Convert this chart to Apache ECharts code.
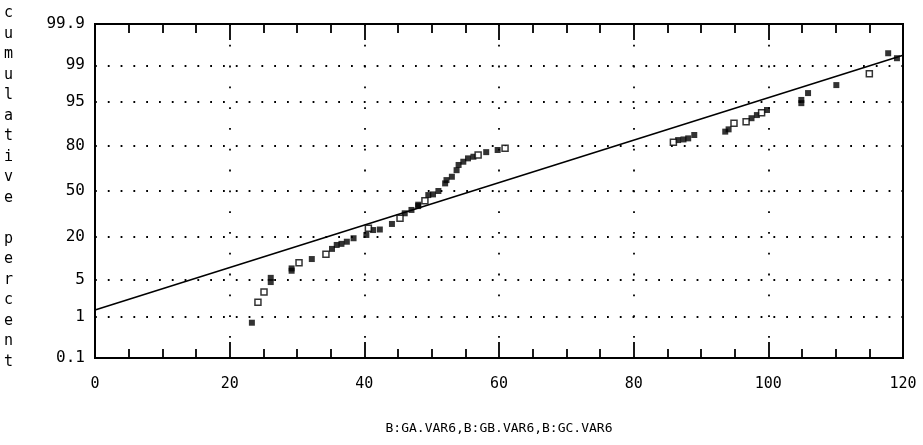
<!DOCTYPE html>
<html>
<head>
<meta charset="utf-8">
<script src="https://cdn.jsdelivr.net/npm/echarts@6/dist/echarts.min.js"></script>
<style>html,body{margin:0;padding:0;background:#fff}#c{width:923px;height:445px}</style>
</head>
<body>
<div id="c"></div>
<script>
// ---- data ----
const yTickLabels = [0.1, 1, 5, 20, 50, 80, 95, 99, 99.9];
const xTicks = [0, 20, 40, 60, 80, 100, 120];
const xName = 'B:GA.VAR6,B:GB.VAR6,B:GC.VAR6';
const yName = 'cumulative percent';

const filledX = [23.3, 26.1, 26.1, 29.2, 29.2, 32.2, 35.2, 35.9, 36.6, 37.4, 38.4, 40.3, 41.3, 42.3, 44.1, 46.0, 47.0, 48.0, 48.0, 49.5, 50.2, 51.0, 52.0, 52.2, 53.0, 53.7, 54.0, 54.7, 55.4, 56.2, 58.1, 59.8, 86.6, 87.4, 88.1, 89.0, 93.6, 94.1, 97.5, 98.3, 99.8, 104.9, 104.9, 105.9, 110.1, 117.8, 119.1];
const filledP = [0.74, 4.6, 5.4, 7.0, 7.6, 10.4, 14.2, 15.9, 16.4, 17.4, 19.1, 20.8, 23.5, 23.8, 27.1, 34.0, 36.3, 39.0, 40.0, 47.0, 47.5, 50.0, 55.6, 58.0, 60.4, 65.0, 68.5, 70.6, 72.7, 73.7, 76.4, 77.6, 82.7, 83.0, 83.5, 85.0, 86.4, 87.3, 91.1, 92.0, 93.3, 94.8, 95.4, 96.5, 97.5, 99.46, 99.3];
const hollowX = [24.2, 25.1, 30.3, 34.3, 40.6, 45.3, 49.0, 56.9, 60.9, 85.9, 94.9, 96.7, 99.0, 115.0];
const hollowP = [1.97, 3.07, 9.2, 12.1, 24.5, 30.7, 42.9, 74.8, 78.5, 81.6, 89.5, 90.0, 92.6, 98.5];
const fitX = [0, 120];
const fitP = [1.39, 99.4];

// ---- normal probability scale (inverse normal CDF) ----
function probit(p) {
  const a=[-3.969683028665376e+01,2.209460984245205e+02,-2.759285104469687e+02,1.383577518672690e+02,-3.066479806614716e+01,2.506628277459239e+00];
  const b=[-5.447609879822406e+01,1.615858368580409e+02,-1.556989798598866e+02,6.680131188771972e+01,-1.328068155288572e+01];
  const c=[-7.784894002430293e-03,-3.223964580411365e-01,-2.400758277161838e+00,-2.549732539343734e+00,4.374664141464968e+00,2.938163982698783e+00];
  const d=[7.784695709041462e-03,3.224671290700398e-01,2.445134137142996e+00,3.754408661907416e+00];
  const plow=0.02425, phigh=1-plow; let q, r;
  if (p < plow) { q=Math.sqrt(-2*Math.log(p)); return (((((c[0]*q+c[1])*q+c[2])*q+c[3])*q+c[4])*q+c[5])/((((d[0]*q+d[1])*q+d[2])*q+d[3])*q+1); }
  if (p <= phigh) { q=p-0.5; r=q*q; return (((((a[0]*r+a[1])*r+a[2])*r+a[3])*r+a[4])*r+a[5])*q/(((((b[0]*r+b[1])*r+b[2])*r+b[3])*r+b[4])*r+1); }
  q=Math.sqrt(-2*Math.log(1-p)); return -(((((c[0]*q+c[1])*q+c[2])*q+c[3])*q+c[4])*q+c[5])/((((d[0]*q+d[1])*q+d[2])*q+d[3])*q+1);
}
const z = pct => probit(pct / 100);
const yTickZ = yTickLabels.map(z);
const yMin = yTickZ[0], yMax = yTickZ[yTickZ.length - 1];
const pairs = (xs, ps) => xs.map((x, i) => [x, z(ps[i])]);

const font = "'DejaVu Sans Mono', 'Liberation Mono', monospace";
const chart = echarts.init(document.getElementById('c'), null, {renderer: 'canvas'});
const xAxisBase = {
  type: 'value', min: xTicks[0], max: xTicks[xTicks.length - 1], interval: xTicks[1] - xTicks[0],
  axisLine: {show: true, onZero: false, lineStyle: {color: '#000', width: 2}},
  axisTick: {show: true, inside: true, length: 16, lineStyle: {color: '#000', width: 1.8}},
  minorTick: {show: true, splitNumber: 4, length: 9, lineStyle: {color: '#000', width: 1.8}}
};
chart.setOption({
  animation: false,
  backgroundColor: '#fff',
  grid: {left: 95, right: 20, top: 24, bottom: 87, show: true, borderColor: '#000', borderWidth: 2, backgroundColor: 'transparent'},
  graphic: [{
    type: 'text', left: 4, top: 3,
    style: {text: yName.split('').join('\n').replace('\n \n', '\n\n'), font: '15px ' + font, fill: '#000', lineHeight: 20.5, align: 'center'}
  }],
  xAxis: [Object.assign({}, xAxisBase, {
    position: 'bottom',
    name: xName, nameLocation: 'middle', nameGap: 64,
    nameTextStyle: {fontFamily: font, fontSize: 13, color: '#000'},
    axisLabel: {margin: 19, fontFamily: font, fontSize: 15, color: '#000'},
    splitLine: {show: true, lineStyle: {color: '#000', width: 1.8, type: [1.8, 19]}}
  }), Object.assign({}, xAxisBase, {
    position: 'top',
    axisLabel: {show: false}, splitLine: {show: false}
  })],
  yAxis: [{
    type: 'value', min: yMin, max: yMax,
    axisLine: {show: true, onZero: false, lineStyle: {color: '#000', width: 2}},
    axisTick: {show: false, customValues: yTickZ},
    axisLabel: {
      customValues: yTickZ, margin: 10, fontFamily: font, fontSize: 16, color: '#000',
      showMinLabel: true, showMaxLabel: true,
      formatter: v => {
        let best = 0;
        yTickZ.forEach((t, i) => { if (Math.abs(t - v) < Math.abs(yTickZ[best] - v)) best = i; });
        return String(yTickLabels[best]);
      }
    },
    splitLine: {show: true, lineStyle: {color: '#000', width: 1.8, type: [1.8, 11]}}
  }],
  series: [{
    type: 'line', data: pairs(fitX, fitP), showSymbol: false, symbol: 'none',
    lineStyle: {color: '#000', width: 1.6}, z: 3
  }, {
    type: 'scatter', data: pairs(filledX, filledP), symbol: 'rect', symbolSize: 6,
    itemStyle: {color: '#000'}, z: 4
  }, {
    type: 'scatter', data: pairs(hollowX, hollowP), symbol: 'rect', symbolSize: 6,
    itemStyle: {color: '#fff', borderColor: '#000', borderWidth: 1.5}, z: 5
  }]
});
</script>
</body>
</html>
